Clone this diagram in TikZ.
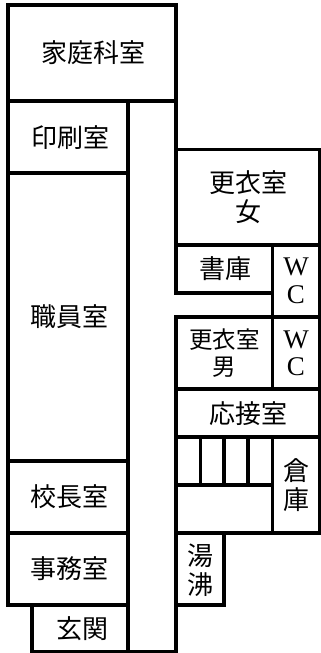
\documentclass[tikz,border=0pt]{standalone}
\usepackage{fontspec}
\setmainfont{Liberation Serif}
\newfontfamily\jpfont{Noto Sans CJK JP}
\tikzset{
  wall/.style={line width=3.1pt,line cap=rect,black},
  room/.style={font=\jpfont\fontsize{26}{29}\selectfont,inner sep=0pt,align=center},
  smallroom/.style={font=\jpfont\fontsize{23.5}{27}\selectfont,inner sep=0pt,align=center},
  latin/.style={font=\rmfamily\fontsize{27}{27.5}\selectfont,inner sep=0pt,align=center}
}
\begin{document}
\begin{tikzpicture}[x=1pt,y=-1pt]
\useasboundingbox (0,0) rectangle (321,653);
% west wing and corridor
\draw[wall] (32,605) -- (8,605) -- (8,5) -- (176,5) -- (176,293);
\draw[wall] (176,317) -- (176,652) -- (32,652) -- (32,605);
\draw[wall] (128,101) -- (128,652);
\draw[wall] (8,101) -- (176,101);
\draw[wall] (8,173) -- (128,173);
\draw[wall] (8,461) -- (128,461);
\draw[wall] (8,533) -- (128,533);
\draw[wall] (8,605) -- (128,605);
% east wing
\draw[wall] (176,149.5) -- (320,149.5) -- (320,533) -- (176,533);
\draw[wall] (176,245) -- (320,245);
\draw[wall] (272.5,245) -- (272.5,389);
\draw[wall] (176,293) -- (272.5,293);
\draw[wall] (176,317) -- (320,317);
\draw[wall] (176,389) -- (320,389);
\draw[wall] (176,437) -- (320,437);
\draw[wall] (272.5,437) -- (272.5,533);
\draw[wall] (176,485) -- (272.5,485);
\draw[wall] (200.5,437) -- (200.5,485);
\draw[wall] (224,437) -- (224,485);
\draw[wall] (248,437) -- (248,485);
\draw[wall] (224,533) -- (224,605) -- (176,605);
% labels
\node[room] (kaseika) at (93.5,53) {家庭科室};
\node[room] (insatsu) at (70,138) {印刷室};
\node[room] (shokuin) at (69.5,316.5) {職員室};
\node[room] (kocho) at (69.5,497) {校長室};
\node[room] (jimu) at (69.5,569) {事務室};
\node[room] (genkan) at (82,629) {玄関};
\node[room] (koi) at (248.5,197) {更衣室\\女};
\node[room] (shoko) at (225.5,268.5) {書庫};
\node[smallroom] (koidan) at (224.5,353) {更衣室\\男};
\node[room] (osetsu) at (248.5,414) {応接室};
\node[room] (soko) at (296,485) {倉\\庫};
\node[room] (yuwakashi) at (200.5,570) {湯\\沸};
\node[latin] (wc1) at (296,281) {W\\C};
\node[latin] (wc2) at (296,353.5) {W\\C};
\end{tikzpicture}
\end{document}
